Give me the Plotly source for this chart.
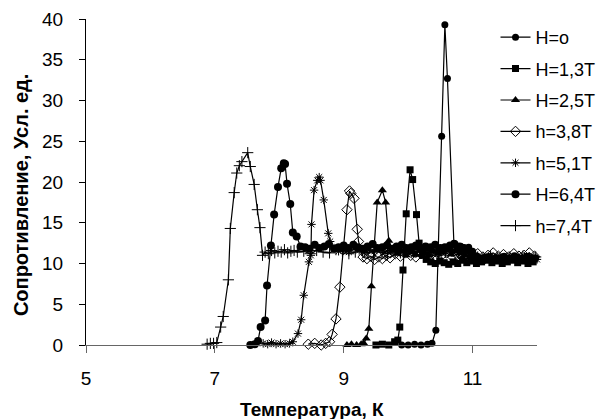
import plotly.graph_objects as go

# ---------------- data ----------------
names = ["H=o", "H=1,3T", "H=2,5T", "h=3,8T", "h=5,1T", "H=6,4T", "h=7,4T"]

# H = 0
h00_T = [9.90, 10.00, 10.10, 10.20, 10.30, 10.37, 10.43, 10.52, 10.57, 10.61, 10.71,
         10.76, 10.82, 10.88, 10.94, 11.00, 11.07, 11.14, 11.21, 11.28, 11.35, 11.42,
         11.49, 11.56, 11.63, 11.70, 11.77, 11.84, 11.91, 11.98]
h00_R = [0.0, 0.0, 0.1, 0.0, 0.1, 0.2, 1.8, 25.6, 39.3, 32.7, 12.5,
         11.8, 12.1, 11.7, 12.0, 11.5, 10.9, 10.6, 10.8, 10.5, 10.7, 10.6,
         10.9, 10.5, 10.7, 10.8, 10.6, 10.9, 10.6, 10.7]

# H = 1,3 T
h13_T = [9.50, 9.60, 9.70, 9.79, 9.84, 9.87, 9.92, 9.97, 10.03, 10.07, 10.13, 10.17,
         10.22, 10.28, 10.35, 10.42, 10.49, 10.56, 10.63, 10.70, 10.77, 10.84, 10.91,
         10.98, 11.06, 11.14, 11.22, 11.30, 11.38, 11.46, 11.54, 11.62, 11.70, 11.78,
         11.86, 11.94]
h13_R = [0.0, 0.1, 0.0, 0.4, 0.6, 2.2, 9.2, 16.1, 21.5, 20.3, 16.0, 12.5,
         11.0, 10.5, 10.2, 10.0, 10.3, 10.1, 9.9, 10.2, 10.0, 10.4, 10.1,
         10.3, 10.0, 10.2, 10.4, 10.1, 10.3, 10.0, 10.2, 10.4, 10.1, 10.3,
         10.0, 10.2]

# H = 2,5 T
h25_T = [9.05, 9.12, 9.20, 9.27, 9.31, 9.35, 9.39, 9.43, 9.52, 9.60, 9.65, 9.70,
         9.76, 9.83, 9.90, 9.97, 10.04, 10.11, 10.18, 10.25, 10.32, 10.39, 10.46,
         10.53, 10.60, 10.67, 10.74, 10.81, 10.88, 10.95, 11.05, 11.15, 11.25, 11.35,
         11.45, 11.55, 11.65, 11.75, 11.85, 11.95]
h25_R = [0.0, 0.1, 0.0, 0.1, 0.2, 0.8, 2.0, 7.2, 17.5, 19.0, 17.5, 12.8,
         11.6, 11.2, 11.5, 11.0, 11.4, 11.1, 11.6, 11.3, 11.0, 11.5, 11.2,
         11.4, 11.7, 11.1, 11.5, 11.3, 11.0, 10.7, 10.4, 10.6, 10.3, 10.5,
         10.7, 10.4, 10.6, 10.3, 10.5, 10.4]

# h = 3,8 T
h38_T = [8.45, 8.55, 8.65, 8.72, 8.78, 8.82, 8.88, 8.94, 8.99, 9.05, 9.09, 9.11, 9.16,
         9.21, 9.23, 9.30, 9.36, 9.42, 9.48, 9.54, 9.60, 9.66, 9.72, 9.80, 9.88, 9.96,
         10.04, 10.12, 10.20, 10.28, 10.36, 10.44, 10.52, 10.60, 10.68, 10.76, 10.84,
         10.92, 11.00, 11.08, 11.16, 11.24, 11.32, 11.40, 11.48, 11.56, 11.64, 11.72,
         11.80, 11.88, 11.96]
h38_R = [0.1, 0.2, 0.0, 0.2, 0.4, 1.3, 3.2, 7.1, 11.7, 16.6, 18.9, 18.6, 18.0,
         14.2, 12.7, 10.8, 10.6, 10.9, 10.5, 10.8, 10.6, 11.0, 10.7, 11.2, 10.9, 11.3,
         11.0, 10.8, 11.2, 10.9, 11.1, 10.8, 11.0, 11.3, 10.9, 11.1, 10.8,
         11.0, 10.9, 11.2, 10.8, 11.0, 11.3, 10.9, 11.1, 10.8, 11.2, 10.9,
         11.0, 11.3, 10.9]

# h = 5,1 T
h51_T = [7.75, 7.82, 7.88, 7.95, 8.02, 8.09, 8.16, 8.21, 8.29, 8.34, 8.38, 8.46, 8.49,
         8.50, 8.54, 8.59, 8.62, 8.64, 8.69, 8.76, 8.79,
         8.85, 8.92, 9.00, 9.08, 9.16, 9.24, 9.32, 9.40, 9.48, 9.56, 9.64, 9.72, 9.80,
         9.88, 9.96, 10.04, 10.12, 10.20, 10.28, 10.36, 10.44, 10.52, 10.60, 10.68,
         10.76, 10.84, 10.92, 11.00, 11.10, 11.20, 11.30, 11.40, 11.50, 11.60, 11.70,
         11.80, 11.90, 12.00]
h51_R = [0.2, 0.1, 0.3, 0.1, 0.2, 0.1, 0.2, 0.4, 1.4, 3.1, 6.1, 10.2, 11.0,
         14.8, 19.0, 20.2, 20.6, 20.2, 17.8, 13.7, 12.7,
         11.9, 11.5, 11.7, 11.4, 11.8, 11.6, 11.3, 11.7, 11.5, 11.8, 11.4, 11.6, 11.5,
         11.7, 11.3, 11.6, 11.8, 11.4, 11.6, 11.5, 11.7, 11.4, 11.6, 11.8,
         11.5, 11.3, 11.6, 11.2, 10.7, 10.5, 10.8, 10.6, 10.4, 10.7, 10.5,
         10.8, 10.6, 10.5]

# H = 6,4 T
h64_T = [7.55, 7.62, 7.67, 7.71, 7.78, 7.81, 7.87, 7.92, 7.98, 8.03, 8.07, 8.09, 8.12,
         8.17, 8.21, 8.27, 8.33,
         8.40, 8.47, 8.55, 8.62, 8.70, 8.77, 8.85, 8.92, 9.00, 9.07, 9.15, 9.22, 9.30,
         9.37, 9.45, 9.52, 9.60, 9.67, 9.75, 9.82, 9.90, 9.97, 10.05, 10.12, 10.20,
         10.27, 10.35, 10.42, 10.50, 10.57, 10.65, 10.72, 10.80, 10.87, 10.95, 11.05,
         11.15, 11.25, 11.35, 11.45, 11.55, 11.65, 11.75, 11.85, 11.95]
h64_R = [0.0, 0.1, 0.5, 2.2, 3.0, 7.3, 12.2, 16.0, 19.4, 21.7, 22.3, 22.2, 19.8,
         17.3, 13.8, 13.3, 12.1,
         12.0, 11.8, 12.3, 11.9, 12.1, 12.4, 11.8, 12.0, 12.2, 11.9, 12.3, 12.0, 11.8,
         12.1, 12.4, 11.9, 12.0, 12.2, 11.8, 12.1, 12.3, 11.9, 12.0, 12.2, 11.8,
         12.1, 12.0, 12.3, 11.9, 12.0, 12.2, 12.4, 12.1, 11.9, 11.5, 10.9,
         10.6, 10.8, 10.5, 10.7, 10.6, 10.9, 10.5, 10.7, 10.6]

# h = 7,4 T
h74_T = [6.88, 6.93, 6.98, 7.03, 7.09, 7.13, 7.21, 7.24, 7.30, 7.34, 7.38, 7.42, 7.51,
         7.55, 7.61, 7.66, 7.70, 7.74,
         7.78, 7.83, 7.88, 7.93, 7.98, 8.03, 8.08, 8.13, 8.18, 8.23, 8.28, 8.38, 8.48,
         8.58, 8.68, 8.78, 8.88, 8.98, 9.08, 9.18, 9.28, 9.38, 9.48, 9.58, 9.68, 9.78,
         9.88, 9.98, 10.08, 10.18, 10.28, 10.38, 10.48, 10.58, 10.68, 10.78, 10.88,
         10.98, 11.08, 11.18, 11.28, 11.38, 11.48, 11.58, 11.68, 11.78, 11.88, 11.98]
h74_R = [0.1, 0.2, 0.2, 0.3, 2.2, 3.5, 8.0, 14.3, 18.7, 21.1, 22.0, 22.5, 23.6,
         21.9, 19.7, 16.6, 14.4, 11.0,
         11.4, 11.2, 11.6, 11.3, 11.5, 11.4, 11.7, 11.3, 11.5, 11.6, 11.4, 11.5, 11.2,
         11.6, 11.4, 11.3, 11.7, 11.5, 11.2, 11.4, 11.6, 11.3, 11.5, 11.4, 11.2, 11.6,
         11.3, 11.5, 11.4, 11.7, 11.3, 11.5, 11.2, 11.4, 11.6, 11.3, 11.5,
         11.0, 10.8, 10.6, 10.9, 10.7, 10.5, 10.8, 10.6, 10.9, 10.7, 10.8]

x_ticks = [5, 7, 9, 11]
y_ticks = [0, 5, 10, 15, 20, 25, 30, 35, 40]
x_title = "Температура, К"
y_title = "Сопротивление, Усл. ед."

# ---------------- figure ----------------
series = [
    (h00_T, h00_R, dict(symbol="circle", size=7, color="black")),
    (h13_T, h13_R, dict(symbol="square", size=7, color="black")),
    (h25_T, h25_R, dict(symbol="triangle-up", size=8, color="black")),
    (h38_T, h38_R, dict(symbol="diamond-open", size=8, color="black",
                        line=dict(width=1, color="black"))),
    (h51_T, h51_R, dict(symbol="asterisk-open", size=7, color="black",
                        line=dict(width=1, color="black"))),
    (h64_T, h64_R, dict(symbol="circle", size=8, color="black")),
    (h74_T, h74_R, dict(symbol="cross-thin-open", size=8, color="black",
                        line=dict(width=1, color="black"))),
]

fig = go.Figure()
for i, (tx, ry, mk) in enumerate(series):
    fig.add_trace(go.Scatter(
        x=tx, y=ry, mode="lines+markers", name=names[i],
        legendgroup=f"g{i}",
        line=dict(color="black", width=1.2),
        marker=mk, cliponaxis=False,
    ))

font_family = "Arial, 'Liberation Sans', sans-serif"
fig.update_layout(
    width=607, height=419,
    margin=dict(l=86, r=70, t=19, b=74, autoexpand=False),
    paper_bgcolor="white", plot_bgcolor="white",
    font=dict(family=font_family, color="black"),
    showlegend=True,
    legend=dict(x=0.908, xanchor="left", y=1.0, yanchor="top",
                font=dict(size=18, family=font_family, color="black"),
                bgcolor="rgba(0,0,0,0)", borderwidth=0,
                tracegroupgap=5),
    annotations=[
        dict(text=f"<b>{x_title}</b>", xref="paper", yref="paper",
             x=0.5, y=-0.199, xanchor="center", yanchor="middle", showarrow=False,
             font=dict(size=19, family=font_family, color="black")),
        dict(text=f"<b>{y_title}</b>", xref="paper", yref="paper",
             x=-0.144, y=0.46, xanchor="center", yanchor="middle", showarrow=False,
             textangle=-90,
             font=dict(size=20, family=font_family, color="black")),
    ],
)
fig.update_xaxes(
    range=[5, 12], tickvals=x_ticks, ticktext=[str(v) for v in x_ticks],
    automargin=False,
    showline=True, linecolor="#666666", linewidth=1,
    ticks="outside", ticklen=7, tickwidth=1, tickcolor="#666666",
    showgrid=False, zeroline=False,
    tickfont=dict(size=19, family=font_family, color="black"),
    ticklabelstandoff=9,
)
fig.update_yaxes(
    range=[0, 40], tickvals=y_ticks,
    automargin=False,
    showline=True, linecolor="black", linewidth=1,
    ticks="outside", ticklen=6, tickwidth=1, tickcolor="black",
    showgrid=False, zeroline=False,
    tickfont=dict(size=19, family=font_family, color="black"),
    ticklabelstandoff=12,
)

fig.write_html("out.html", config={"displayModeBar": False},
               post_script="document.body.style.margin='0px';document.body.style.padding='0px';")
